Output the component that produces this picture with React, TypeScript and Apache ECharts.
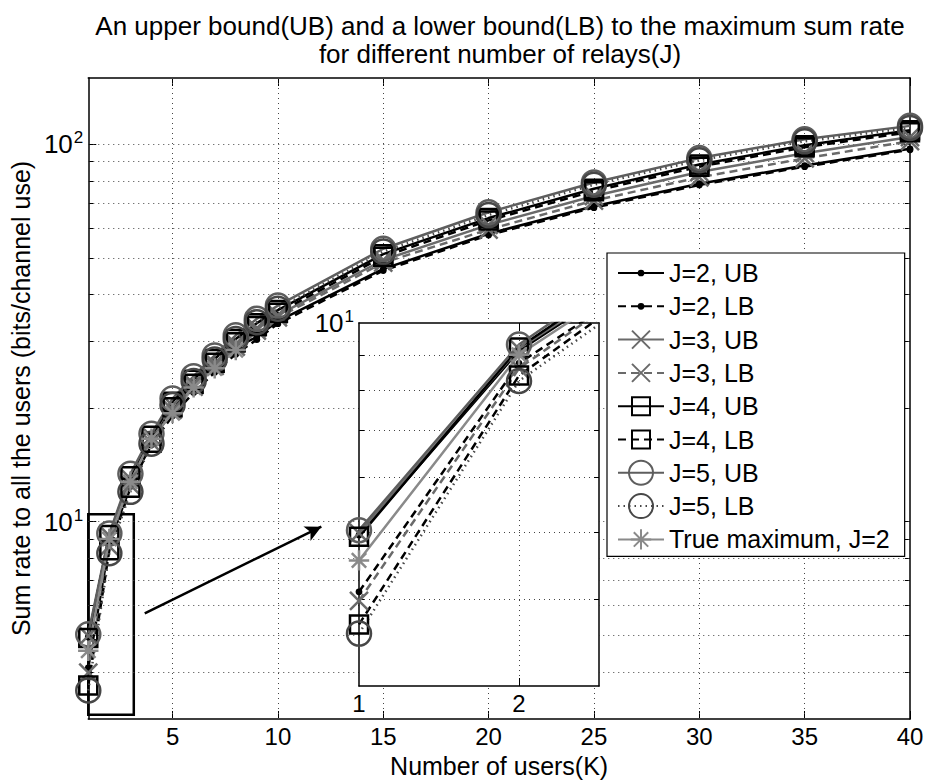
import { useEffect, useRef } from 'react';
import * as echarts from 'echarts';

// ---------- data ----------
const K = [1, 2, 3, 4, 5, 6, 7, 8, 9, 10, 15, 20, 25, 30, 35, 40];
const K_TRUE = [1, 2, 3, 4, 5, 6, 7, 8];

const J2_UB = [4.95, 9.12, 12.9, 16.7, 19.8, 22.9, 25.9, 29.0, 30.9, 34.0, 46.8, 58.0, 68.6, 78.7, 87.9, 97.4];
const J2_LB = [4.10, 8.75, 12.4, 16.0, 19.1, 22.0, 24.9, 27.8, 30.4, 33.5, 46.3, 57.5, 68.0, 78.1, 87.3, 96.8];
const J3_UB = [4.98, 9.18, 13.0, 16.8, 20.3, 23.2, 26.3, 29.6, 32.6, 35.3, 49.4, 61.2, 73.0, 84.5, 94.8, 104.6];
const J3_LB = [3.98, 8.60, 12.5, 16.2, 19.8, 22.8, 25.9, 29.1, 32.1, 34.8, 48.6, 59.5, 71.0, 81.8, 91.8, 102.0];
const J4_UB = [4.92, 9.22, 13.2, 16.9, 20.8, 23.8, 27.0, 30.5, 33.6, 36.4, 51.2, 63.8, 76.3, 88.5, 99.5, 109.0];
const J4_LB = [3.68, 8.40, 12.3, 16.2, 20.1, 23.2, 26.4, 29.9, 33.0, 35.8, 50.4, 62.9, 75.2, 87.3, 98.3, 107.8];
const J5_UB = [5.03, 9.31, 13.4, 17.1, 21.2, 24.3, 27.6, 31.2, 34.5, 37.4, 52.9, 66.1, 79.3, 92.0, 103.2, 112.0];
const J5_LB = [3.57, 8.25, 12.0, 16.1, 20.4, 23.6, 26.9, 30.5, 33.8, 36.7, 52.0, 65.0, 78.2, 90.8, 101.9, 110.6];
const TRUE_MAX = [4.55, 9.00, 12.76, 16.6, 19.4, 22.7, 25.5, 28.5];

const X_TICKS = [5, 10, 15, 20, 25, 30, 35, 40];
const X_GRID = [5, 10, 15, 20, 25, 30, 35];
const Y_MAJOR = [10, 100];
const Y_MINOR = [4, 5, 6, 7, 8, 9, 20, 30, 40, 50, 60, 70, 80, 90];
const Y_GRID = [4, 5, 6, 7, 8, 9, 10, 20, 30, 40, 50, 60, 70, 80, 90, 100];
const INSET_X_LABELS = [1, 2];
const INSET_X_GRID = [2];
const INSET_Y_MAJOR = [10];
const INSET_Y_MINOR = [4, 5, 6, 7, 8, 9];
const INSET_POINTS = 3;

// zoom box and arrow in data coordinates (K, rate)
const ZOOM_BOX_FROM = [1, 3.08];
const ZOOM_BOX_TO = [3.16, 10.46];
const ARROW_FROM = [3.68, 5.72];
const ARROW_TO = [12.06, 9.7];

const TITLE = 'An upper bound(UB) and a lower bound(LB) to the maximum sum rate\nfor different number of relays(J)';
const X_NAME = 'Number of users(K)';
const Y_NAME = 'Sum rate to all the users (bits/channel use)';

// ---------- styles ----------
const FONT = "'Liberation Sans', Arial, Helvetica, sans-serif";
const RING = 'path://M0,0M20,20M10,0A10,10,0,1,1,10,20A10,10,0,1,1,10,0Z';
const SQUARE = 'path://M0,0M20,20M2.5,2.5L17.5,2.5L17.5,17.5L2.5,17.5Z';
const XMARK = 'path://M0,0M20,20M2.5,2.5L17.5,17.5M17.5,2.5L2.5,17.5';
const STAR = 'path://M0,0M20,20M10,1.5L10,18.5M1.5,10L18.5,10M4,4L16,16M16,4L4,16';
const DOT = 'path://M0,0M20,20M10,7.2A2.8,2.8,0,1,1,10,12.8A2.8,2.8,0,1,1,10,7.2Z';
const DASH = [8, 5];
const DOTTED = [1.5, 4];
const LW = 2.5;

type Def = { name: string; ks: number[]; ys: number[]; color: string; type: any; symbol: string; filled: boolean };
const DEFS: Def[] = [
  { name: 'J=2, UB', ks: K, ys: J2_UB, color: '#000000', type: 'solid', symbol: DOT, filled: true },
  { name: 'J=2, LB', ks: K, ys: J2_LB, color: '#000000', type: DASH, symbol: DOT, filled: true },
  { name: 'J=3, UB', ks: K, ys: J3_UB, color: '#6a6a6a', type: 'solid', symbol: XMARK, filled: false },
  { name: 'J=3, LB', ks: K, ys: J3_LB, color: '#6a6a6a', type: DASH, symbol: XMARK, filled: false },
  { name: 'J=4, UB', ks: K, ys: J4_UB, color: '#000000', type: 'solid', symbol: SQUARE, filled: false },
  { name: 'J=4, LB', ks: K, ys: J4_LB, color: '#000000', type: DASH, symbol: SQUARE, filled: false },
  { name: 'J=5, UB', ks: K, ys: J5_UB, color: '#5e5e5e', type: 'solid', symbol: RING, filled: false },
  { name: 'J=5, LB', ks: K, ys: J5_LB, color: '#474747', type: DOTTED, symbol: RING, filled: false },
  { name: 'True maximum, J=2', ks: K_TRUE, ys: TRUE_MAX, color: '#8a8a8a', type: 'solid', symbol: STAR, filled: false },
];

const supFormatter = (v: number) => {
  const e = Math.round(Math.log10(v));
  return `{b|10}{s|${e}}`;
};
const supRich = {
  b: { fontSize: 26, color: '#000', fontFamily: FONT, lineHeight: 30 },
  s: { fontSize: 17, color: '#000', fontFamily: FONT, verticalAlign: 'top', lineHeight: 16, padding: [0, 0, 6, 1] },
};

export default function App() {
  const ref = useRef<HTMLDivElement>(null);
  useEffect(() => {
    const chart = echarts.init(ref.current!, null, { renderer: 'svg' });
    const axisLine = { show: true, onZero: false, lineStyle: { color: '#000', width: 1.5 } };
    const gridLineStyle = { color: '#444', width: 1, type: [1, 4] };

    const series: any[] = [];
    // main grid lines
    series.push({
      type: 'line', name: '_grid_main', xAxisIndex: 0, yAxisIndex: 0, data: [], silent: true,
      markLine: {
        silent: true, symbol: 'none', z: 1, animation: false,
        label: { show: false }, lineStyle: gridLineStyle, emphasis: { disabled: true },
        data: [...X_GRID.map((v) => ({ xAxis: v })), ...Y_GRID.map((v) => ({ yAxis: v }))],
      },
    });
    // inset grid lines
    series.push({
      type: 'line', name: '_grid_inset', xAxisIndex: 2, yAxisIndex: 4, data: [], silent: true,
      markLine: {
        silent: true, symbol: 'none', z: 4, animation: false,
        label: { show: false }, lineStyle: gridLineStyle, emphasis: { disabled: true },
        data: [...INSET_X_GRID.map((v) => ({ xAxis: v })), ...INSET_Y_MINOR.map((v) => ({ yAxis: v }))],
      },
    });

    const mk = (d: Def, inset: boolean) => {
      const n = inset ? Math.min(INSET_POINTS, d.ks.length) : d.ks.length;
      const s: any = {
        type: 'line',
        name: inset ? d.name + ' (inset)' : d.name,
        xAxisIndex: inset ? 2 : 0,
        yAxisIndex: inset ? 4 : 0,
        data: d.ks.slice(0, n).map((k, i) => [k, d.ys[i]]),
        symbol: d.symbol,
        symbolSize: 24,
        showSymbol: true,
        showAllSymbol: true,
        clip: true,
        z: inset ? 6 : 2,
        silent: true,
        lineStyle: { color: d.color, width: LW, type: d.type },
        itemStyle: d.filled
          ? { color: d.color, borderWidth: 0 }
          : { color: 'rgba(0,0,0,0)', borderColor: d.color, borderWidth: LW },
        emphasis: { disabled: true },
      };
      return s;
    };
    DEFS.forEach((d) => series.push(mk(d, false)));
    DEFS.forEach((d) => series.push(mk(d, true)));

    // zoom box + arrow attached to first main series
    const first = series[2];
    first.markArea = {
      silent: true, z: 1,
      label: { show: false },
      itemStyle: { color: 'rgba(0,0,0,0)', borderColor: '#000', borderWidth: 2.5 },
      data: [[{ coord: ZOOM_BOX_FROM }, { coord: ZOOM_BOX_TO }]],
    };
    first.markLine = {
      silent: true, z: 5,
      symbol: ['none', 'arrow'], symbolSize: [12, 16],
      label: { show: false },
      lineStyle: { color: '#000', width: 2.5, type: 'solid' },
      data: [[{ coord: ARROW_FROM }, { coord: ARROW_TO }]],
    };

    const option: any = {
      animation: false,
      backgroundColor: '#fff',
      textStyle: { fontFamily: FONT, color: '#000' },
      title: {
        text: TITLE, left: 500, top: 12, textAlign: 'center', padding: 0,
        textStyle: { fontSize: 26, fontWeight: 'normal', color: '#000', lineHeight: 28, fontFamily: FONT },
      },
      legend: {
        orient: 'vertical', left: 607, top: 253,
        data: DEFS.map((d) => d.name),
        itemWidth: 46, itemHeight: 30, itemGap: 3.3,
        padding: [5, 15, 2, 10],
        backgroundColor: '#fff', borderColor: '#000', borderWidth: 1.2, borderRadius: 0,
        textStyle: { fontSize: 25, color: '#000', fontFamily: FONT, lineHeight: 30 },
        selectedMode: false, z: 8,
      },
      grid: [
        { left: 87, top: 78, width: 823, height: 642, show: false, containLabel: false },
        { left: 359, top: 323, width: 240, height: 363, show: true, backgroundColor: '#fff', borderWidth: 0, z: 3 },
      ],
      xAxis: [
        {
          type: 'value', gridIndex: 0, position: 'bottom', min: 1, max: 40,
          axisLine, splitLine: { show: false },
          axisTick: { show: true, inside: true, length: 8, customValues: X_TICKS, lineStyle: { color: '#000', width: 1 } },
          axisLabel: { show: true, customValues: X_TICKS, fontSize: 24, color: '#000', margin: 5, fontFamily: FONT },
          name: X_NAME, nameLocation: 'middle', nameGap: 34,
          nameTextStyle: { fontSize: 25, color: '#000', fontFamily: FONT },
        },
        {
          type: 'value', gridIndex: 0, position: 'top', min: 1, max: 40,
          axisLine, splitLine: { show: false },
          axisTick: { show: true, inside: true, length: 8, customValues: X_TICKS, lineStyle: { color: '#000', width: 1 } },
          axisLabel: { show: false },
        },
        {
          type: 'value', gridIndex: 1, position: 'bottom', min: 1, max: 2.5, z: 5,
          axisLine, splitLine: { show: false },
          axisTick: { show: true, inside: true, length: 8, customValues: INSET_X_GRID, lineStyle: { color: '#000', width: 1 } },
          axisLabel: { show: true, customValues: INSET_X_LABELS, fontSize: 24, color: '#000', margin: 5, fontFamily: FONT },
        },
        {
          type: 'value', gridIndex: 1, position: 'top', min: 1, max: 2.5, z: 5,
          axisLine, splitLine: { show: false },
          axisTick: { show: true, inside: true, length: 8, customValues: INSET_X_GRID, lineStyle: { color: '#000', width: 1 } },
          axisLabel: { show: false },
        },
      ],
      yAxis: [
        {
          type: 'log', logBase: 10, gridIndex: 0, position: 'left', min: 3, max: 150,
          axisLine, splitLine: { show: false }, minorTick: { show: false },
          axisTick: { show: true, inside: true, length: 8, customValues: Y_MAJOR, lineStyle: { color: '#000', width: 1 } },
          axisLabel: { show: true, customValues: Y_MAJOR, formatter: supFormatter, rich: supRich, margin: 5 },
          name: Y_NAME, nameLocation: 'middle', nameGap: 52, nameRotate: 90,
          nameTextStyle: { fontSize: 25, color: '#000', fontFamily: FONT },
        },
        {
          type: 'log', logBase: 10, gridIndex: 0, position: 'left', min: 3, max: 150,
          axisLine: { show: false }, splitLine: { show: false },
          axisTick: { show: true, inside: true, length: 5, customValues: Y_MINOR, lineStyle: { color: '#000', width: 1 } },
          axisLabel: { show: false },
        },
        {
          type: 'log', logBase: 10, gridIndex: 0, position: 'right', min: 3, max: 150,
          axisLine, splitLine: { show: false },
          axisTick: { show: true, inside: true, length: 8, customValues: Y_MAJOR, lineStyle: { color: '#000', width: 1 } },
          axisLabel: { show: false },
        },
        {
          type: 'log', logBase: 10, gridIndex: 0, position: 'right', min: 3, max: 150,
          axisLine: { show: false }, splitLine: { show: false },
          axisTick: { show: true, inside: true, length: 5, customValues: Y_MINOR, lineStyle: { color: '#000', width: 1 } },
          axisLabel: { show: false },
        },
        {
          type: 'log', logBase: 10, gridIndex: 1, position: 'left', min: 3, max: 10, z: 5,
          axisLine, splitLine: { show: false },
          axisTick: { show: true, inside: true, length: 5, customValues: INSET_Y_MINOR, lineStyle: { color: '#000', width: 1 } },
          axisLabel: { show: true, customValues: INSET_Y_MAJOR, formatter: supFormatter, rich: supRich, margin: 5 },
        },
        {
          type: 'log', logBase: 10, gridIndex: 1, position: 'right', min: 3, max: 10, z: 5,
          axisLine, splitLine: { show: false },
          axisTick: { show: true, inside: true, length: 5, customValues: INSET_Y_MINOR, lineStyle: { color: '#000', width: 1 } },
          axisLabel: { show: false },
        },
      ],
      series,
    };
    chart.setOption(option);
    return () => chart.dispose();
  }, []);
  return <div ref={ref} style={{ position: 'absolute', left: 0, top: 0, width: 930, height: 783 }} />;
}
